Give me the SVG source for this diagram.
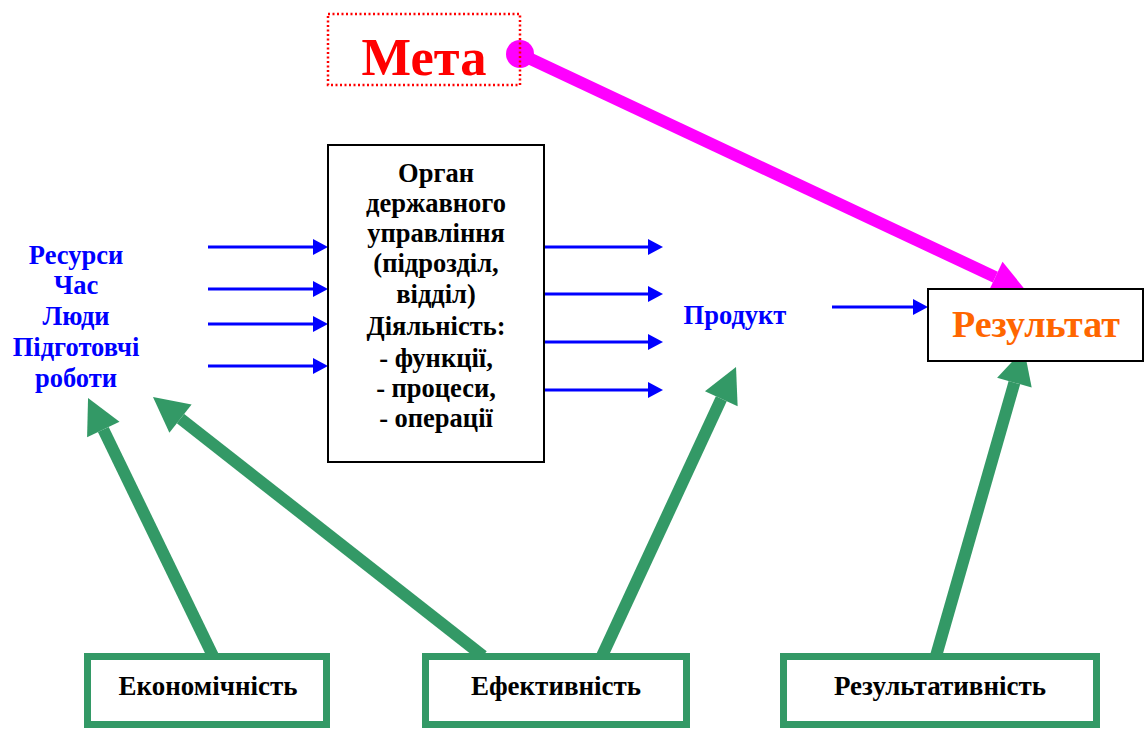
<svg xmlns="http://www.w3.org/2000/svg" width="1144" height="729" viewBox="0 0 1144 729">
  <style>
    text { font-family: "Liberation Serif", "Times New Roman", serif; font-weight: bold; text-anchor: middle; }
    .blue-txt { fill: #0000FF; font-size: 26.5px; }
    .body-txt { fill: #000000; font-size: 26.5px; }
    .metric-txt { fill: #000000; font-size: 27px; }
    .flow { stroke: #0000FF; stroke-width: 3; fill: none; marker-end: url(#blueHead); }
    .metric-link { stroke: #339966; stroke-width: 12; fill: none; marker-end: url(#greenHead); }
    .metric-box { fill: #FFFFFF; stroke: #339966; stroke-width: 7; }
    .plain-box { fill: #FFFFFF; stroke: #000000; stroke-width: 2; }
  </style>
  <defs>
    <marker id="blueHead" markerUnits="userSpaceOnUse" markerWidth="15" markerHeight="16" refX="0" refY="8" orient="auto" overflow="visible">
      <path d="M0,0 L15,8 L0,16 z" fill="#0000FF"/>
    </marker>
    <marker id="greenHead" markerUnits="userSpaceOnUse" markerWidth="35" markerHeight="36" refX="0" refY="18" orient="auto" overflow="visible">
      <path d="M0,0 L35,18 L0,36 z" fill="#339966"/>
    </marker>
    <marker id="magentaHead" markerUnits="userSpaceOnUse" markerWidth="35" markerHeight="34" refX="0" refY="17" orient="auto" overflow="visible">
      <path d="M0,0 L35,17 L0,34 z" fill="#FF00FF"/>
    </marker>
  </defs>

  <rect width="1144" height="729" fill="#FFFFFF"/>

  <!-- connectors -->
  <g id="connectors">
    <!-- inputs into the body -->
    <line class="flow" x1="208" y1="247" x2="313" y2="247"/>
    <line class="flow" x1="208" y1="289" x2="313" y2="289"/>
    <line class="flow" x1="208" y1="324" x2="313" y2="324"/>
    <line class="flow" x1="208" y1="366" x2="313" y2="366"/>
    <!-- outputs from the body -->
    <line class="flow" x1="544" y1="247" x2="648" y2="247"/>
    <line class="flow" x1="544" y1="294" x2="648" y2="294"/>
    <line class="flow" x1="544" y1="342" x2="648" y2="342"/>
    <line class="flow" x1="544" y1="390" x2="648" y2="390"/>
    <!-- product to result -->
    <line class="flow" x1="832" y1="307" x2="913" y2="307"/>
    <!-- goal to result -->
    <line x1="520" y1="54" x2="995.3" y2="277.1" stroke="#FF00FF" stroke-width="12" marker-end="url(#magentaHead)"/>
    <circle cx="520" cy="54" r="14" fill="#FF00FF"/>
    <!-- criteria links -->
    <line class="metric-link" x1="213" y1="656" x2="103.3" y2="429.5"/>
    <line class="metric-link" x1="483" y1="656" x2="180.5" y2="418.6"/>
    <line class="metric-link" x1="602" y1="656" x2="721.3" y2="398.7"/>
    <line class="metric-link" x1="936" y1="656" x2="1014.4" y2="382.6"/>
  </g>

  <g id="goal">
    <rect x="328" y="14" width="192" height="71" fill="none" stroke="#FF0000" stroke-width="2.5" stroke-dasharray="2 2.5"/>
    <text x="424" y="75" font-size="52.5" fill="#FF0000">Мета</text>
  </g>

  <g id="resources">
    <text class="blue-txt" x="76" y="264">Ресурси</text>
    <text class="blue-txt" x="76" y="294">Час</text>
    <text class="blue-txt" x="76" y="325">Люди</text>
    <text class="blue-txt" x="76" y="356">Підготовчі</text>
    <text class="blue-txt" x="76" y="387">роботи</text>
  </g>

  <g id="authority">
    <rect class="plain-box" x="328" y="145" width="216" height="317"/>
    <text class="body-txt" x="436" y="182">Орган</text>
    <text class="body-txt" x="436" y="212">державного</text>
    <text class="body-txt" x="436" y="242">управління</text>
    <text class="body-txt" x="436" y="272">(підрозділ,</text>
    <text class="body-txt" x="436" y="303">відділ)</text>
    <text class="body-txt" x="436" y="335">Діяльність:</text>
    <text class="body-txt" x="436" y="367">- функції,</text>
    <text class="body-txt" x="436" y="397">- процеси,</text>
    <text class="body-txt" x="436" y="427">- операції</text>
  </g>

  <g id="product">
    <text class="blue-txt" x="735" y="324">Продукт</text>
  </g>

  <g id="result">
    <rect class="plain-box" x="928" y="289" width="215" height="72"/>
    <text x="1036" y="337" font-size="38" fill="#FF6600">Результат</text>
  </g>

  <g id="economy">
    <rect class="metric-box" x="87.5" y="656.5" width="239" height="68"/>
    <text class="metric-txt" x="208" y="695">Економічність</text>
  </g>

  <g id="efficiency">
    <rect class="metric-box" x="425.5" y="656.5" width="261" height="68"/>
    <text class="metric-txt" x="556" y="695">Ефективність</text>
  </g>

  <g id="effectiveness">
    <rect class="metric-box" x="783.5" y="656.5" width="313" height="68"/>
    <text class="metric-txt" x="940" y="695">Результативність</text>
  </g>
</svg>
